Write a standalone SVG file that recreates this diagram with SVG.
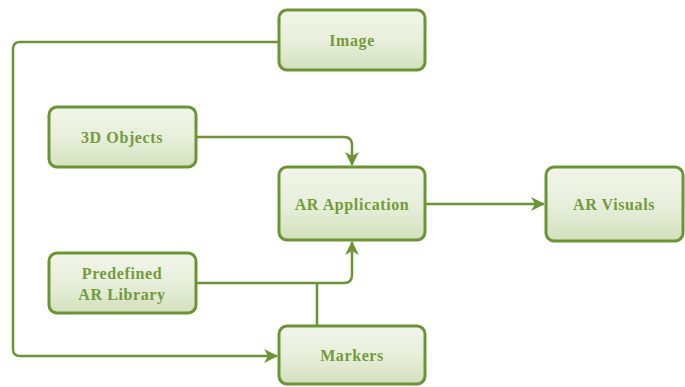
<svg xmlns="http://www.w3.org/2000/svg" width="685" height="387" viewBox="0 0 685 387">
<defs>
<linearGradient id="g" x1="0" y1="0" x2="0" y2="1">
<stop offset="0" stop-color="#f1f5ea"/>
<stop offset="0.5" stop-color="#e8efdc"/>
<stop offset="1" stop-color="#d3e0bd"/>
</linearGradient>
<marker id="arr" markerWidth="14" markerHeight="14" refX="13" refY="7" orient="auto" markerUnits="userSpaceOnUse">
<path d="M0,0 L14,7 L0,14 L4,7 Z" fill="#6b9534"/>
</marker>
<style>
.box{fill:url(#g);stroke:#6b9534;stroke-width:3}
.lbl{font-family:"Liberation Serif",serif;font-weight:bold;font-size:16px;letter-spacing:0.6px;fill:#739b3c;text-anchor:middle}
.con{fill:none;stroke:#6b9534;stroke-width:2.5}
</style>
</defs>
<rect width="685" height="387" fill="#ffffff"/>
<g id="connectors">
<path class="con" d="M279,42 H20 Q13,42 13,49 V349 Q13,356 20,356 H277" marker-end="url(#arr)"/>
<path class="con" d="M196,137 H344 Q352,137 352,145 V165" marker-end="url(#arr)"/>
<path class="con" d="M196,283 H344 Q352,283 352,275 V242" marker-end="url(#arr)"/>
<path class="con" d="M317,326 V283"/>
<path class="con" d="M425,204 H544" marker-end="url(#arr)"/>
</g>
<g id="image"><rect class="box" x="279" y="10" width="146" height="60" rx="8"/><text class="lbl" x="352" y="46">Image</text></g>
<g id="objects3d"><rect class="box" x="49" y="107" width="147" height="60" rx="8"/><text class="lbl" x="122" y="143">3D Objects</text></g>
<g id="arapp"><rect class="box" x="279" y="167" width="146" height="73" rx="8"/><text class="lbl" x="352" y="210">AR Application</text></g>
<g id="library"><rect class="box" x="49" y="253" width="147" height="60" rx="8"/><text class="lbl" x="122" y="279">Predefined</text><text class="lbl" x="122" y="300">AR Library</text></g>
<g id="markers"><rect class="box" x="279" y="326" width="146" height="58" rx="8"/><text class="lbl" x="352" y="361">Markers</text></g>
<g id="arvisuals"><rect class="box" x="546" y="167" width="137" height="74" rx="8"/><text class="lbl" x="614" y="210">AR Visuals</text></g>
</svg>
